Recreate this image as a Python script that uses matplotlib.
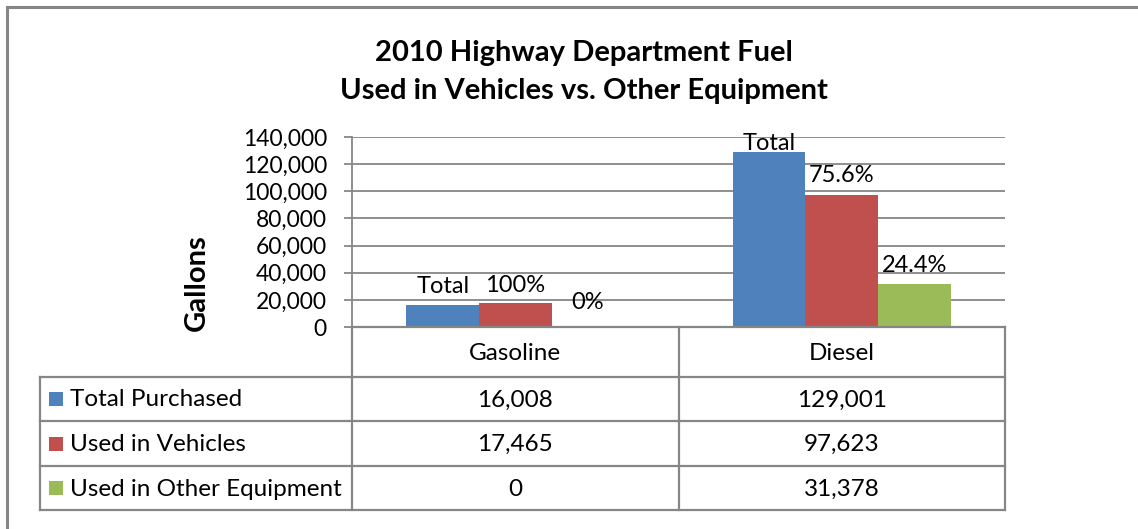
import matplotlib
matplotlib.use("Agg")
import matplotlib.pyplot as plt
from matplotlib.lines import Line2D
from matplotlib.patches import Rectangle
import numpy as np

plt.rcParams['font.family'] = ['Lato', 'DejaVu Sans']

# ---- data ----
categories = ["Gasoline", "Diesel"]
series_names = ["Total Purchased", "Used in Vehicles", "Used in Other Equipment"]
total_purchased = [16008, 129001]
used_vehicles = [17465, 97623]
used_other = [0, 31378]
labels_total = ["Total", "Total"]
labels_vehicles = ["100%", "75.6%"]
labels_other = ["0%", "24.4%"]
yticks = [0, 20000, 40000, 60000, 80000, 100000, 120000, 140000]
title = "2010 Highway Department Fuel\nUsed in Vehicles vs. Other Equipment"
ylabel = "Gallons"

colors = ["#4F81BD", "#C0504D", "#9BBB59"]
grid_c = "#868686"
text_c = "#000000"

W, H = 1138, 529
fig = plt.figure(figsize=(W / 100, H / 100), dpi=100)

def fx(px):
    return px / W

def fy(py):
    return 1 - py / H

# outer frame
fig.add_artist(Line2D([fx(7), fx(7)], [fy(7), fy(529)], color=grid_c, lw=2.2, transform=fig.transFigure))
fig.add_artist(Line2D([fx(7), fx(1138)], [fy(7), fy(7)], color=grid_c, lw=2.2, transform=fig.transFigure))

# plot area
L, R, T, B = 352, 1005, 137, 327
ax = fig.add_axes([fx(L), fy(B), fx(R) - fx(L), fy(T) - fy(B)])
x = np.arange(len(categories))
bw = 1 / 4.5
series = [total_purchased, used_vehicles, used_other]
labels = [labels_total, labels_vehicles, labels_other]
offsets = [[9, 1.5], [8, 9], [13, 9]]
for i, (vals, labs) in enumerate(zip(series, labels)):
    xs = x + (i - 1) * bw
    ax.bar(xs, vals, width=bw, color=colors[i], zorder=3, linewidth=0)
    for j in range(len(categories)):
        ax.annotate(labs[j], (xs[j], vals[j]), xytext=(0, offsets[i][j]),
                    textcoords="offset points", ha="center", va="baseline",
                    fontsize=17, color=text_c, zorder=4, annotation_clip=False)

ax.set_xlim(-0.5, len(categories) - 0.5)
ax.set_ylim(0, 140000)
ax.set_yticks(yticks)
ax.set_yticklabels([f"{v:,}" for v in yticks], fontsize=16.5)
ax.set_xticks([])
ax.yaxis.grid(True, color=grid_c, lw=1.3, zorder=0)
ax.set_axisbelow(True)
for s in ["top", "right", "bottom"]:
    ax.spines[s].set_visible(False)
ax.spines["left"].set_color(grid_c)
ax.spines["left"].set_linewidth(1.3)
ax.tick_params(axis="y", length=6, width=1.3, color=grid_c, pad=12)

# y label
fig.text(fx(197), fy(283), ylabel, rotation=90, ha="center", va="center",
         fontsize=21, fontweight="bold")

# title
fig.text(fx(584), fy(72), title, ha="center", va="center", fontsize=21,
         fontweight="bold", linespacing=1.55)

# data table
TL, TB = 40, 510
row_y = [327, 377, 421, 466, 510]
tax = fig.add_axes([fx(TL), fy(TB), fx(R) - fx(TL), fy(B) - fy(TB)])
tax.set_xlim(TL, R)
tax.set_ylim(TB, B)
tax.axis("off")
col_x = [TL, L, L + (R - L) / len(categories), R]
lw_t = 1.6
fs_t = 17.5
# horizontal lines
tax.plot([L, R], [row_y[0], row_y[0]], color=grid_c, lw=lw_t, clip_on=False)
for yy in row_y[1:]:
    tax.plot([TL, R], [yy, yy], color=grid_c, lw=lw_t, clip_on=False)
# vertical lines
tax.plot([TL, TL], [row_y[1], row_y[-1]], color=grid_c, lw=lw_t, clip_on=False)
for xx in col_x[1:]:
    tax.plot([xx, xx], [row_y[0], row_y[-1]], color=grid_c, lw=lw_t, clip_on=False)

for j, cat in enumerate(categories):
    cx = (col_x[j + 1] + col_x[j + 2]) / 2
    tax.text(cx, (row_y[0] + row_y[1]) / 2 + 1, cat, ha="center", va="center", fontsize=fs_t)
    for i, vals in enumerate(series):
        tax.text(cx, (row_y[i + 1] + row_y[i + 2]) / 2 + 1, f"{vals[j]:,}",
                 ha="center", va="center", fontsize=fs_t)
for i, name in enumerate(series_names):
    cy = (row_y[i + 1] + row_y[i + 2]) / 2
    tax.add_patch(Rectangle((49, cy - 7), 14, 14, facecolor=colors[i], edgecolor="none"))
    tax.text(70, cy + 1, name, ha="left", va="center", fontsize=fs_t)

fig.savefig("out.png", dpi=100)
